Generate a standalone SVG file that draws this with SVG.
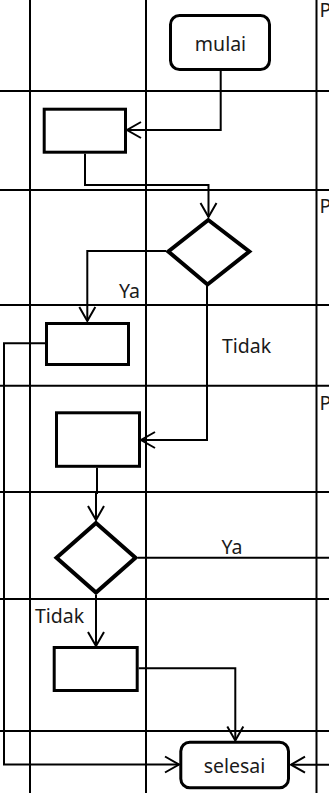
<svg xmlns="http://www.w3.org/2000/svg" width="329" height="793" viewBox="0 0 329 793">
<style>
.grid line{stroke:#000;stroke-width:2}
.shape{fill:#fff;stroke:#000;stroke-width:3}
.dia{fill:#fff;stroke:#000;stroke-width:4;stroke-linejoin:miter}
.conn{fill:none;stroke:#000;stroke-width:2}
text{font-family:"Noto Sans","Open Sans","DejaVu Sans",sans-serif;font-size:19.5px;fill:#1a1a1a}
</style>
<defs>
<marker id="arr" markerUnits="userSpaceOnUse" markerWidth="20" markerHeight="20" viewBox="-16 -10 18 20" refX="0" refY="0" orient="auto">
<path d="M-14,-8 L0,0 L-14,8" fill="none" stroke="#000" stroke-width="2"/>
</marker>
</defs>
<rect width="329" height="793" fill="#fff"/>
<g class="grid" id="grid">
<line x1="30" y1="0" x2="30" y2="793"/>
<line x1="146" y1="0" x2="146" y2="793"/>
<line x1="316.5" y1="0" x2="316.5" y2="793"/>
<line x1="0" y1="91" x2="329" y2="91"/>
<line x1="0" y1="190" x2="329" y2="190"/>
<line x1="0" y1="305" x2="329" y2="305"/>
<line x1="0" y1="385.7" x2="329" y2="385.7"/>
<line x1="0" y1="492" x2="329" y2="492"/>
<line x1="0" y1="599" x2="329" y2="599"/>
<line x1="0" y1="731" x2="329" y2="731"/>
</g>
<g id="lane-labels">
<text x="319.5" y="17">P</text>
<text x="319.5" y="213">P</text>
<text x="319.5" y="410">P</text>
</g>
<g id="connectors">
<polyline class="conn" points="220.7,70 220.7,130 127,130" marker-end="url(#arr)"/>
<polyline class="conn" points="85,153.7 85,185 208.5,185 208.5,217" marker-end="url(#arr)"/>
<polyline class="conn" points="166,251 87.3,251 87.3,321" marker-end="url(#arr)"/>
<polyline class="conn" points="207,286 207,440 141,440" marker-end="url(#arr)"/>
<polyline class="conn" points="45,343.3 4,343.3 4,764.5 179,764.5" marker-end="url(#arr)"/>
<polyline class="conn" points="97,467.7 97,493 96,493 96,520" marker-end="url(#arr)"/>
<polyline class="conn" points="138,557.7 329,557.7"/>
<polyline class="conn" points="96,595 96,646" marker-end="url(#arr)"/>
<polyline class="conn" points="138.7,668.3 235.3,668.3 235.3,740.5" marker-end="url(#arr)"/>
<polyline class="conn" points="329,764.7 291,764.7" marker-end="url(#arr)"/>
<text x="119" y="298.3">Ya</text>
<text x="222" y="352.7">Tidak</text>
<text x="221.5" y="553.7">Ya</text>
<text x="35" y="622.7">Tidak</text>
</g>
<g id="mulai">
<rect class="shape" x="170.5" y="15.5" width="99" height="54" rx="9"/>
<text x="220.5" y="51" text-anchor="middle">mulai</text>
</g>
<g id="proses1"><rect class="shape" x="44.2" y="109.2" width="81.3" height="43"/></g>
<g id="keputusan1"><polygon class="dia" points="208.3,220 249.3,251.5 207.5,284.5 168.3,251.5"/></g>
<g id="proses2"><rect class="shape" x="46.5" y="323.5" width="82" height="41"/></g>
<g id="proses3"><rect class="shape" x="56.5" y="412.8" width="83" height="53.5"/></g>
<g id="keputusan2"><polygon class="dia" points="96,523 135.5,557.7 96,592.5 56.5,557.7"/></g>
<g id="proses4"><rect class="shape" x="54.2" y="647.5" width="83" height="43"/></g>
<g id="selesai">
<rect class="shape" x="180.8" y="742.2" width="107.7" height="45.6" rx="9"/>
<text x="234.5" y="772.7" text-anchor="middle">selesai</text>
</g>
</svg>
